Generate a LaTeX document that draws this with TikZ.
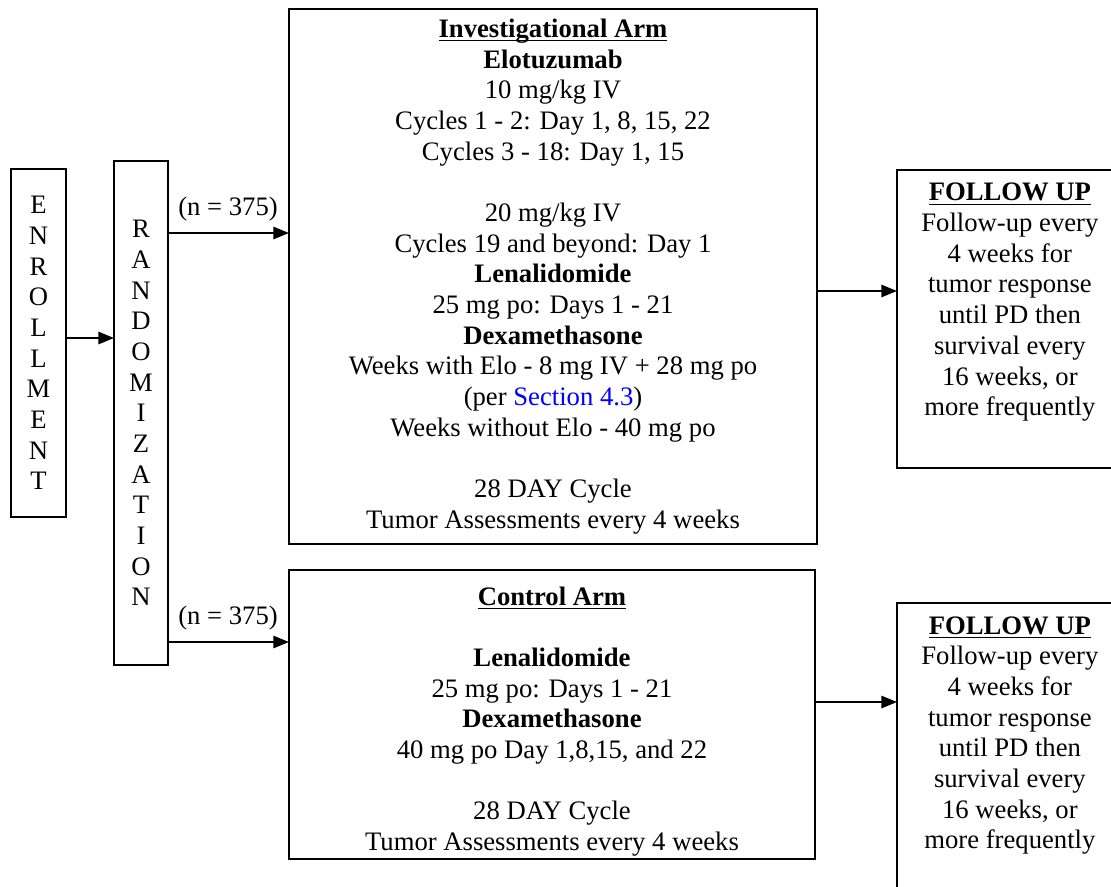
\documentclass[tikz,border=0pt]{standalone}
\usepackage{fontspec}
\setmainfont{Liberation Serif}[BoldFont={Liberation Serif Bold}]
\usetikzlibrary{arrows.meta}
\definecolor{linkblue}{RGB}{0,0,255}
\tikzset{
  box/.style={draw, line width=0.85pt, inner sep=0pt, outer sep=0pt, align=center,
    font=\fontsize{12}{13.8}\selectfont},
  txt/.style={inner sep=0pt, outer sep=0pt, align=center, font=\fontsize{12}{13.8}\selectfont},
  arr/.style={line width=0.85pt, -{Triangle[length=7pt,width=5.5pt]}},
}
\newcommand{\ul}[1]{\underline{\smash{#1}}\vphantom{#1}}
\begin{document}
\begin{tikzpicture}[x=0.45pt, y=-0.45pt]
\useasboundingbox (0,0) rectangle (1111,886);
\clip (0,0) rectangle (1111,886);
% boxes
\node[box, minimum width=24.75pt, minimum height=156.6pt] (enroll) at (38.5,343)
  {E\\N\\R\\O\\L\\L\\M\\E\\N\\T};
\node[box, minimum width=24.3pt, minimum height=226.8pt] (rand) at (141,413)
  {R\\A\\N\\D\\O\\M\\I\\Z\\A\\T\\I\\O\\N};
\node[box, minimum width=237.6pt, minimum height=240.75pt] (inv) at (553,276.5)
  {\textbf{\ul{Investigational Arm}}\\
   \textbf{Elotuzumab}\\
   10 mg/kg IV\\
   Cycles 1 - 2: Day 1, 8, 15, 22\\
   Cycles 3 - 18: Day 1, 15\\[13.8pt]
   20 mg/kg IV\\
   Cycles 19 and beyond: Day 1\\
   \textbf{Lenalidomide}\\
   25 mg po: Days 1 - 21\\
   \textbf{Dexamethasone}\\
   Weeks with Elo - 8 mg IV + 28 mg po\\
   (per \textcolor{linkblue}{Section 4.3})\\
   Weeks without Elo - 40 mg po\\[13.8pt]
   28 DAY Cycle\\
   Tumor Assessments every 4 weeks};
\node[box, minimum width=236.7pt, minimum height=130.05pt] (ctrl) at (552,714.5) {};
\node[txt, anchor=north] (ctrltext) at ([yshift=-7.5pt]ctrl.north)
  {\textbf{\ul{Control Arm}}\\[13.8pt]
   \textbf{Lenalidomide}\\
   25 mg po: Days 1 - 21\\
   \textbf{Dexamethasone}\\
   40 mg po Day 1,8,15, and 22\\[13.8pt]
   28 DAY Cycle\\
   Tumor Assessments every 4 weeks};
\node[box, minimum width=102.6pt, minimum height=134.1pt] (fu1) at (1011,319) {};
\node[txt, anchor=north] (fu1text) at ([xshift=-0.5pt,yshift=-6pt]fu1.north)
  {\textbf{\ul{FOLLOW UP}}\\
   Follow-up every\\
   4 weeks for\\
   tumor response\\
   until PD then\\
   survival every\\
   16 weeks, or\\
   more frequently};
\node[box, minimum width=102.6pt, minimum height=133.65pt] (fu2) at (1011,751.5) {};
\node[txt, anchor=north] (fu2text) at ([xshift=-0.5pt,yshift=-6pt]fu2.north)
  {\textbf{\ul{FOLLOW UP}}\\
   Follow-up every\\
   4 weeks for\\
   tumor response\\
   until PD then\\
   survival every\\
   16 weeks, or\\
   more frequently};
% labels
\node[txt] (n1) at (228,209) {(n = 375)};
\node[txt] (n2) at (228,618) {(n = 375)};
% connector anchor points
\coordinate (r1) at (rand.east |- 0,233);
\coordinate (r2) at (rand.east |- 0,642);
\coordinate (i1) at (inv.east |- 0,291);
\coordinate (c1) at (ctrl.east |- 0,702);
% connectors
\draw[arr] (enroll.east |- 0,338) -- (rand.west |- 0,338);
\draw[arr] (r1) -- (r1 -| inv.west);
\draw[arr] (r2) -- (r2 -| ctrl.west);
\draw[arr] (i1) -- (i1 -| fu1.west);
\draw[arr] (c1) -- (c1 -| fu2.west);
\end{tikzpicture}
\end{document}
